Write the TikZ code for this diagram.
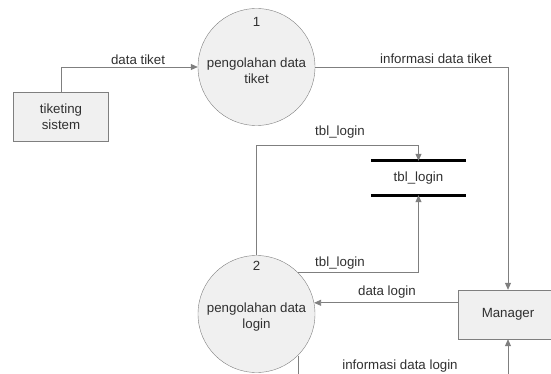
\documentclass[tikz,border=0pt]{standalone}
\usepackage{fontspec}
\setmainfont{Liberation Sans}
\usetikzlibrary{arrows.meta}
\definecolor{linegray}{HTML}{7F7F7F}
\definecolor{shapefill}{HTML}{F0F0F0}
\definecolor{textgray}{HTML}{303030}
\begin{document}
\begin{tikzpicture}[x=1pt,y=-1pt,
  every node/.style={font=\fontsize{13.3}{16}\selectfont, text=textgray},
  proc/.style={circle, draw=linegray, fill=shapefill, minimum size=117pt, inner sep=0pt},
  proctext/.style={align=center, inner sep=0pt},
  entity/.style={rectangle, draw=linegray, fill=shapefill, minimum width=95pt, minimum height=49pt, align=center},
  storebox/.style={rectangle, minimum width=95pt, minimum height=34pt, inner sep=0pt},
  storeline/.style={line width=3pt, black},
  flow/.style={draw=linegray, line width=0.8pt, -{Triangle[length=7pt,width=6pt]}},
  lbl/.style={inner sep=1pt}]
\useasboundingbox (0,0) rectangle (551,374);
\clip (0,0) rectangle (551,374);

% processes
\node[proc] (p1) at (256.5,67) {};
\node[proctext] (t1) at (256.5,70.5) {pengolahan data\\tiket};
\node (n1) at (256.5,22) {1};
\node[proc] (p2) at (256.5,314) {};
\node[proctext] (t2) at (256.5,317) {pengolahan data\\login};
\node (n2) at (256.5,266) {2};

% external entities
\node[entity] (ts) at (61,116.5) {tiketing\\sistem};
\node[entity, minimum width=100pt] (mgr) at (508,314.5) {Manager};

% data store
\node[storebox] (st) at (418.5,178) {tbl\_login};
\draw[storeline] (st.north west) -- (st.north east);
\draw[storeline] (st.south west) -- (st.south east);

% flows
\draw[flow] (ts.north) |- (p1.west);
\node[lbl] (l1) at (138,60) {data tiket};

\draw[flow] (p1.east) -| (mgr.north);
\node[lbl] (l2) at (436,59) {informasi data tiket};

\draw[flow] (p2.north) |- ([yshift=15pt]st.north) -- (st.north);
\node[lbl] (l3) at (340,132) {tbl\_login};

\draw[flow] (p2.45) -| (st.south);
\node[lbl] (l4) at (340,263) {tbl\_login};

\draw[flow] (mgr.west |- p2.11) -- (p2.11);
\node[lbl] (l5) at (387,292) {data login};

\coordinate (k2) at (400,395);
\draw[flow] (p2.-45) |- (k2) -| (mgr.south);
\node[lbl] (l6) at (400,366) {informasi data login};
\end{tikzpicture}
\end{document}
